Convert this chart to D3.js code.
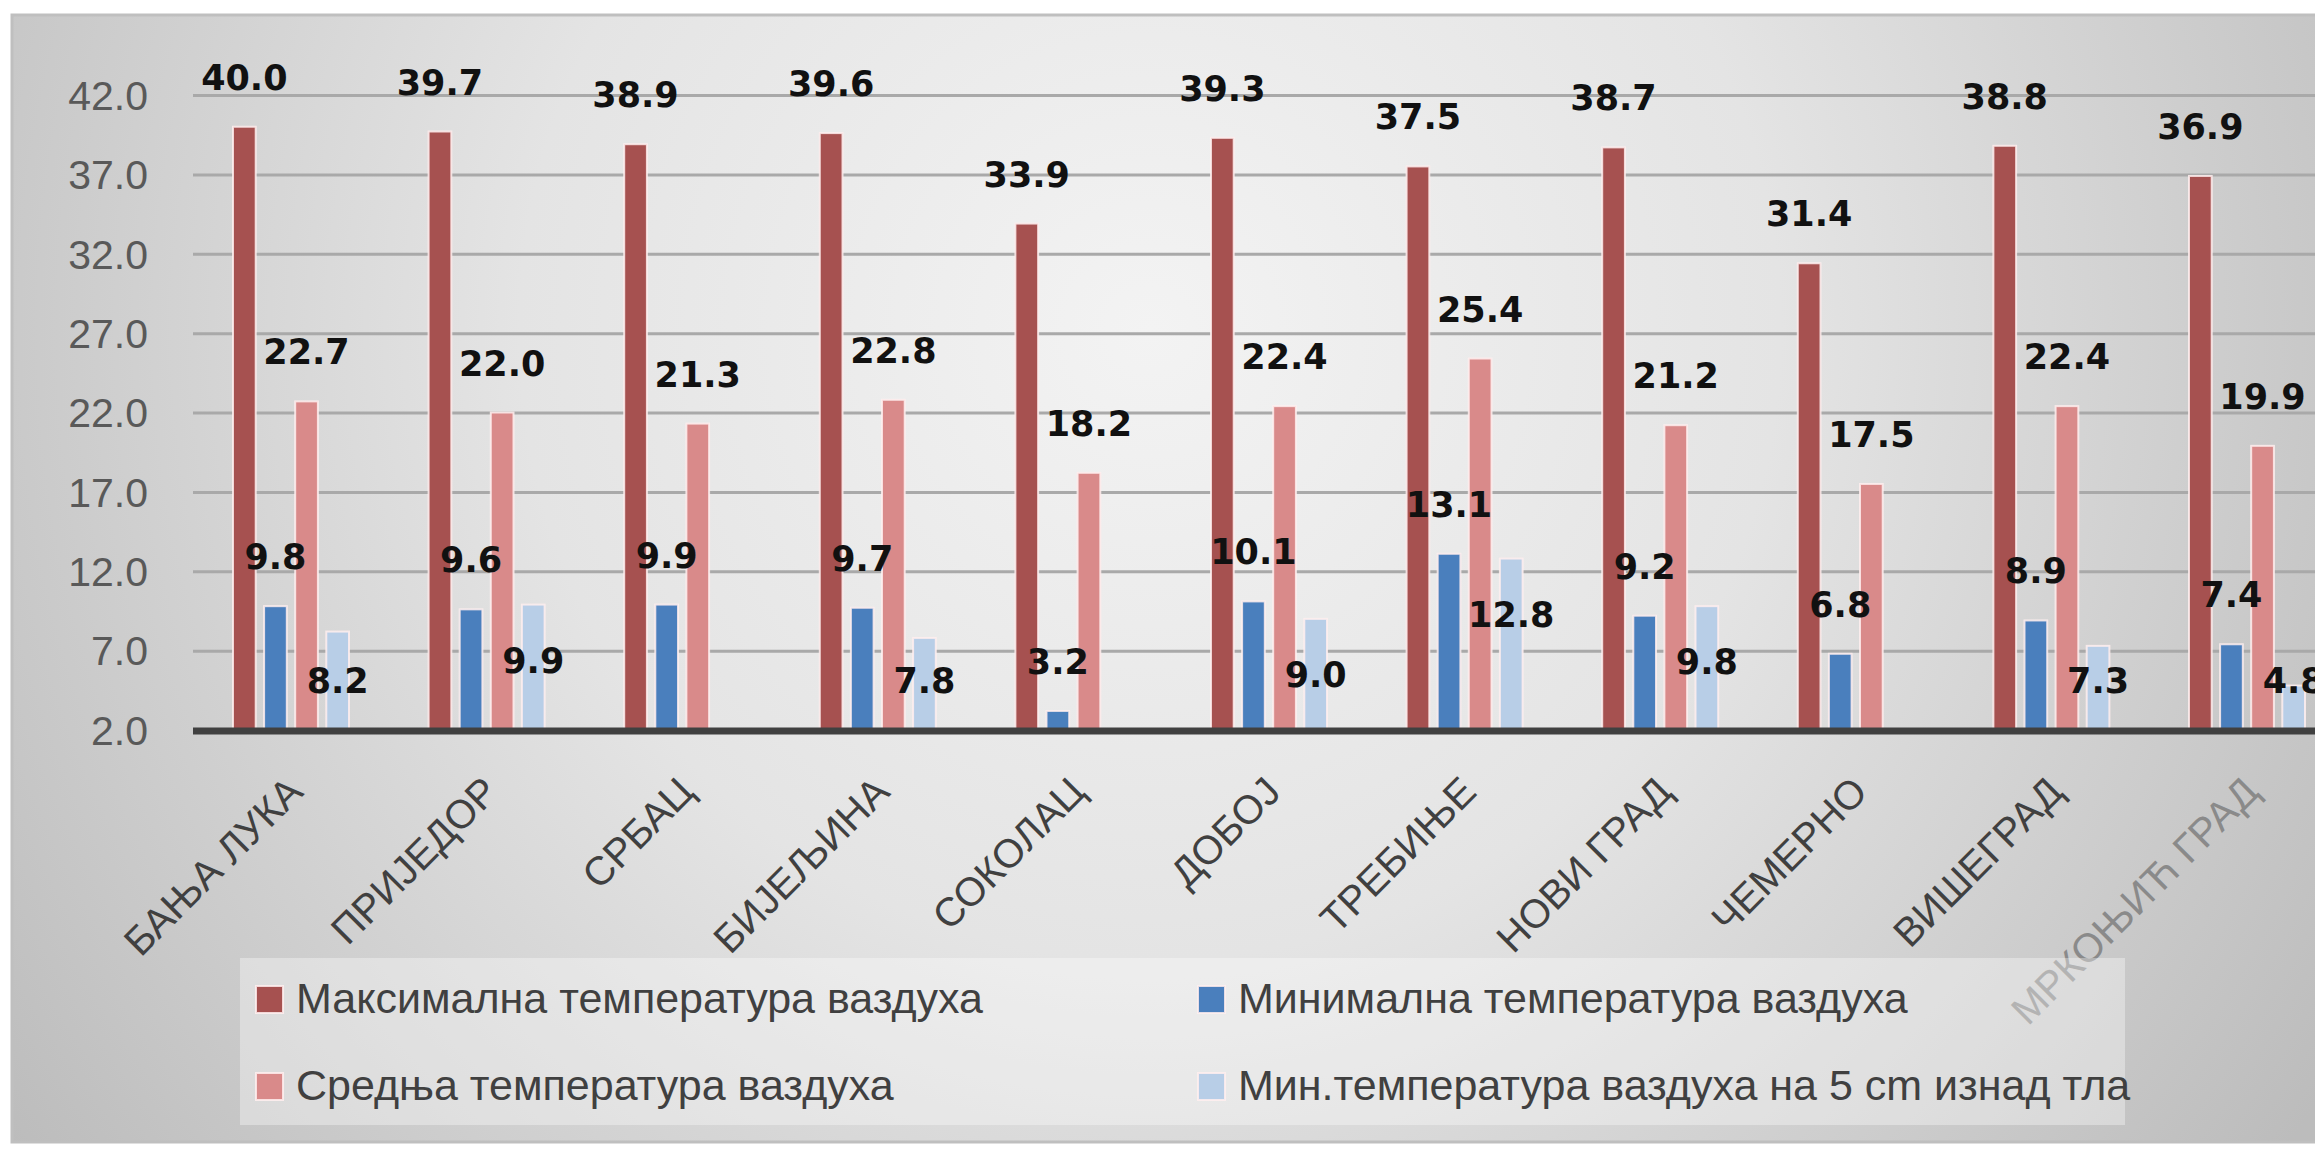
<!DOCTYPE html>
<html><head><meta charset="utf-8">
<script src="https://cdn.jsdelivr.net/npm/d3@7"></script>
<style>html,body{margin:0;padding:0;background:#fff;overflow:hidden}</style>
</head><body>
<svg id="chart" width="2315" height="1153"></svg>
<script>
const categories = ["БАЊА ЛУКА","ПРИЈЕДОР","СРБАЦ","БИЈЕЉИНА","СОКОЛАЦ","ДОБОЈ","ТРЕБИЊЕ","НОВИ ГРАД","ЧЕМЕРНО","ВИШЕГРАД","МРКОЊИЋ ГРАД"];
const seriesNames = ["Максимална температура ваздуха","Минимална температура ваздуха","Средња температура ваздуха","Мин.температура ваздуха на 5 cm изнад тла"];
const maxTemp  = [40.0,39.7,38.9,39.6,33.9,39.3,37.5,38.7,31.4,38.8,36.9];
const minTemp  = [9.8,9.6,9.9,9.7,3.2,10.1,13.1,9.2,6.8,8.9,7.4];
const meanTemp = [22.7,22.0,21.3,22.8,18.2,22.4,25.4,21.2,17.5,22.4,19.9];
const min5cm   = [8.2,9.9,null,7.8,null,9.0,12.8,9.8,null,7.3,4.8];
const yTicks   = [2,7,12,17,22,27,32,37,42];
const seriesColors = ["#a65150","#4a7fbd","#d98a8a","#b8cee7"];

const seriesValues = [maxTemp, minTemp, meanTemp, min5cm];
const svg = d3.select("#chart");
const W = 2315, H = 1153;

// background
const defs = svg.append("defs");
const rg = defs.append("radialGradient").attr("id","bg").attr("gradientUnits","userSpaceOnUse")
  .attr("cx",1150).attr("cy",330).attr("r",1400);
rg.append("stop").attr("offset",0).attr("stop-color","#f3f3f3");
rg.append("stop").attr("offset",0.45).attr("stop-color","#e4e4e4");
rg.append("stop").attr("offset",1).attr("stop-color","#bcbcbc");
svg.append("rect").attr("x",12).attr("y",15).attr("width",W+20).attr("height",1127)
  .attr("fill","url(#bg)").attr("stroke","#bfbfbf").attr("stroke-width",3);

const plotLeft = 193, step = 195.6;
const x0 = d3.scaleBand().domain(categories).range([plotLeft, plotLeft + step*categories.length]).padding(0);
const x1 = d3.scaleBand().domain(d3.range(4)).range([40, 156]).paddingInner(0.27).paddingOuter(0);
const y = d3.scaleLinear().domain([2,42]).range([730,95]);

// gridlines
svg.append("g").attr("transform",`translate(${plotLeft},0)`)
  .call(d3.axisLeft(y).tickValues(yTicks.slice(1)).tickSize(-(W - plotLeft + 10)).tickFormat(""))
  .call(g => g.select(".domain").remove())
  .call(g => g.selectAll("line").attr("stroke","#a9a9a9").attr("stroke-width",3));

// y labels
svg.append("g").attr("transform",`translate(${plotLeft},0)`)
  .call(d3.axisLeft(y).tickValues(yTicks).tickSize(0).tickPadding(45).tickFormat(d3.format(".1f")))
  .call(g => g.select(".domain").remove())
  .call(g => g.selectAll("text").attr("fill","#595959").attr("font-family","Liberation Sans, Arial, sans-serif")
     .attr("font-size",41).attr("dy","0.35em"));

// bars
const groups = svg.append("g").selectAll("g").data(categories).join("g")
  .attr("transform", d => `translate(${x0(d)},0)`);
groups.selectAll("rect").data((c,i) => seriesValues.map((s,k) => ({k, v: s[i]})).filter(d => d.v != null))
  .join("rect")
  .attr("x", d => x1(d.k)).attr("width", x1.bandwidth())
  .attr("y", d => y(d.v)).attr("height", d => y(2) - y(d.v))
  .attr("fill", d => seriesColors[d.k])
  .attr("stroke", "rgba(255,238,238,0.85)").attr("stroke-width", 2);

// axis baseline
svg.append("line").attr("x1",plotLeft).attr("x2",W+10).attr("y1",y(2)+1).attr("y2",y(2)+1)
  .attr("stroke","#404040").attr("stroke-width",7);

// data labels
groups.selectAll("text.val").data((c,i) => seriesValues.map((s,k) => ({k, v: s[i]})).filter(d => d.v != null))
  .join("text").attr("class","val")
  .attr("x", d => x1(d.k) + x1.bandwidth()/2)
  .attr("y", d => d.k === 3 ? Math.min(y(d.v) + 68, y(2) - 37) : y(d.v) - 37)
  .attr("text-anchor","middle")
  .attr("font-family","DejaVu Sans, Verdana, sans-serif").attr("font-weight","bold")
  .attr("font-size",35).attr("fill","#111")
  .text(d => d3.format(".1f")(d.v));

// category labels
svg.append("g").selectAll("text").data(categories).join("text")
  .attr("transform", d => `translate(${x0(d) + x0.bandwidth()/2 + 14},${y(2) + 64}) rotate(-45)`)
  .attr("text-anchor","end")
  .attr("font-family","Liberation Sans, Arial, sans-serif").attr("font-size",40)
  .attr("fill", (d,i) => i === categories.length - 1 ? "#8a8a8a" : "#404040")
  .text(d => d);

// legend
const leg = svg.append("g");
leg.append("rect").attr("x",240).attr("y",958).attr("width",1885).attr("height",167)
  .attr("fill","rgba(255,255,255,0.35)");
const colX = [256, 1198], rowY = [1013, 1100];
seriesNames.forEach((name, k) => {
  const cx = colX[k % 2], cy = rowY[Math.floor(k / 2)];
  leg.append("rect").attr("x", cx).attr("y", cy - 27).attr("width", 27).attr("height", 27)
    .attr("fill", seriesColors[k]).attr("stroke","rgba(255,238,238,0.85)").attr("stroke-width",2);
  leg.append("text").attr("x", cx + 40).attr("y", cy)
    .attr("font-family","Liberation Sans, Arial, sans-serif").attr("font-size",43)
    .attr("fill","#404040").text(name);
});
</script>
</body></html>
